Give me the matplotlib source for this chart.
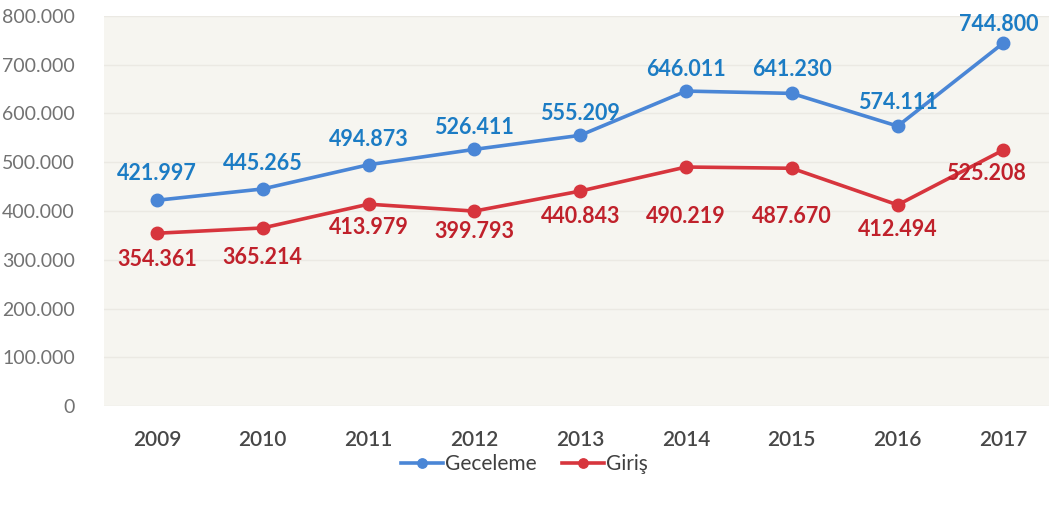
import numpy as np
import matplotlib.pyplot as plt

years = ['2009', '2010', '2011', '2012', '2013', '2014', '2015', '2016', '2017']
geceleme = [421997, 445265, 494873, 526411, 555209, 646011, 641230, 574111, 744800]
giris = [354361, 365214, 413979, 399793, 440843, 490219, 487670, 412494, 525208]
yticks = [0, 100000, 200000, 300000, 400000, 500000, 600000, 700000, 800000]

blue_line = '#4a86d6'
blue_text = '#1c7cc4'
red_line = '#d7353d'
red_text = '#c0212b'

def fmt(v):
    # thousands separated with a dot
    return f'{v:,}'.replace(',', '.') if v else '0'

plt.rcParams['font.family'] = ['Lato', 'DejaVu Sans']

fig = plt.figure(figsize=(10.49, 5.07), dpi=100)
ax = fig.add_axes([104 / 1049, 1 - 406 / 507, 945 / 1049, 390 / 507])
ax.set_facecolor('#f6f5f0')

x = np.arange(len(years))
ax.plot(x, geceleme, color=blue_line, lw=2.6, marker='o', ms=9, label='Geceleme', zorder=3)
ax.plot(x, giris, color=red_line, lw=2.6, marker='o', ms=9, label='Giriş', zorder=3)

# label offsets in pixels (dx, dy)
off_top = [(0, 27), (0, 25), (0, 25), (0, 22), (0, 22), (0, 22), (0, 24), (0, 24), (-5, 18)]
off_bot = [(0, -26), (0, -30), (0, -23), (0, -20), (0, -25), (0, -49), (0, -48), (0, -25), (-18, -24)]
for i in range(len(years)):
    ax.annotate(fmt(geceleme[i]), (x[i], geceleme[i]), xytext=off_top[i], textcoords='offset pixels',
                ha='center', va='center', color=blue_text, fontsize=15.5, fontweight='bold', zorder=4)
    ax.annotate(fmt(giris[i]), (x[i], giris[i]), xytext=off_bot[i], textcoords='offset pixels',
                ha='center', va='center', color=red_text, fontsize=15.5, fontweight='bold', zorder=4)

ax.set_xlim(-0.5, 8.43)
ax.set_ylim(0, 800000)
ax.set_xticks(x)
ax.set_xticklabels(years, fontsize=15, color='#474747', fontweight='semibold')
ax.set_yticks(yticks)
ax.set_yticklabels([fmt(v) for v in yticks], fontsize=14, color='#727272')
ax.tick_params(length=0)
ax.tick_params(axis='x', pad=17)
ax.tick_params(axis='y', pad=21)
ax.grid(axis='y', color='#ebe9e3', lw=1)
ax.set_axisbelow(True)
for s in ax.spines.values():
    s.set_visible(False)

ax.legend(loc='center', bbox_to_anchor=(0.5, 1 - 464 / 507), bbox_transform=fig.transFigure,
          ncol=2, frameon=False, fontsize=15, handlelength=2.0, handletextpad=0.1,
          columnspacing=1.2, labelcolor='#404040', markerscale=0.75)

fig.savefig('out.png', dpi=100)
